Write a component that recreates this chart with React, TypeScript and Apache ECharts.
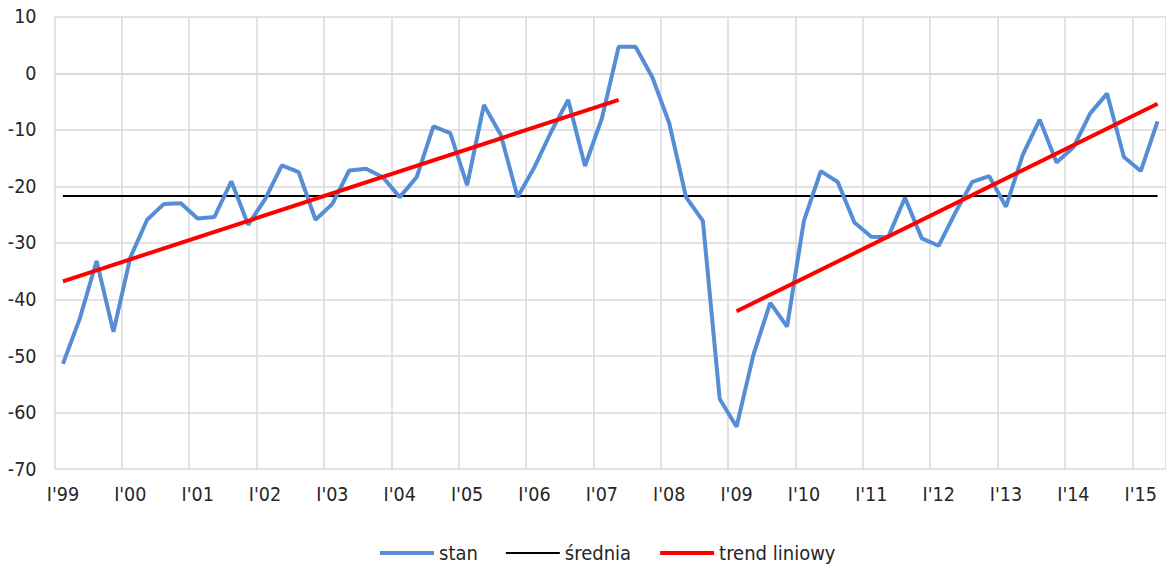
import React, { useEffect, useRef } from "react";
import * as echarts from "echarts";

const categories: string[] = [
  "I'99", "II'99", "III'99", "IV'99",
  "I'00", "II'00", "III'00", "IV'00",
  "I'01", "II'01", "III'01", "IV'01",
  "I'02", "II'02", "III'02", "IV'02",
  "I'03", "II'03", "III'03", "IV'03",
  "I'04", "II'04", "III'04", "IV'04",
  "I'05", "II'05", "III'05", "IV'05",
  "I'06", "II'06", "III'06", "IV'06",
  "I'07", "II'07", "III'07", "IV'07",
  "I'08", "II'08", "III'08", "IV'08",
  "I'09", "II'09", "III'09", "IV'09",
  "I'10", "II'10", "III'10", "IV'10",
  "I'11", "II'11", "III'11", "IV'11",
  "I'12", "II'12", "III'12", "IV'12",
  "I'13", "II'13", "III'13", "IV'13",
  "I'14", "II'14", "III'14", "IV'14",
  "I'15", "II'15",
];

const stan: number[] = [
  -51.4, -43.4, -33.2, -45.7,
  -32.6, -25.9, -23.1, -23.0,
  -25.7, -25.4, -19.1, -26.8,
  -22.3, -16.3, -17.5, -25.9,
  -23.1, -17.2, -16.9, -18.4,
  -21.9, -18.4, -9.4, -10.6,
  -19.8, -5.6, -10.9, -21.9,
  -16.6, -10.3, -4.7, -16.4,
  -8.0, 4.7, 4.7, -0.7,
  -8.8, -21.9, -26.1, -57.6,
  -62.5, -49.8, -40.6, -44.8,
  -26.1, -17.3, -19.2, -26.4,
  -28.9, -29.0, -22.0, -29.2,
  -30.5, -24.6, -19.2, -18.2,
  -23.6, -14.4, -8.2, -15.8,
  -13.1, -7.1, -3.6, -14.8,
  -17.3, -8.5,
];

const sredniaValue = -21.7;

// trend lines: [category index, value] at start and end
const trend1: [number, number][] = [[0, -36.8], [33, -4.7]];
const trend2: [number, number][] = [[40, -42.1], [65, -5.4]];

const FONT = "'DejaVu Sans Condensed', 'DejaVu Sans', sans-serif";
const TEXT = "#262626";
const GRID = "#D9D9D9";

export default function App() {
  const ref = useRef<HTMLDivElement>(null);
  useEffect(() => {
    if (!ref.current) return;
    const chart = echarts.init(ref.current, undefined, { renderer: "svg" });
    chart.setOption({
      animation: false,
      textStyle: { fontFamily: FONT },
      grid: { left: 54.5, right: -2.5, top: 16.7, height: 452.4, containLabel: false },
      legend: {
        left: 378,
        top: 543,
        padding: 0,
        itemWidth: 54,
        itemHeight: 6,
        itemGap: 27,
        itemStyle: { opacity: 0 },
        textStyle: { fontFamily: FONT, fontSize: 20, color: TEXT },
        data: [
          { name: "stan", lineStyle: { width: 4, color: "#558ED5" } },
          { name: "średnia", lineStyle: { width: 2, color: "#000000" } },
          { name: "trend liniowy", lineStyle: { width: 4, color: "#FF0000" } },
        ],
      },
      xAxis: {
        type: "category",
        data: categories,
        boundaryGap: true,
        axisLine: { show: true, lineStyle: { color: GRID, width: 1.5 } },
        axisTick: { show: false, interval: 3 },
        axisLabel: {
          interval: 3,
          margin: 15,
          fontFamily: FONT,
          fontSize: 19.5,
          color: TEXT,
        },
        splitLine: { show: true, interval: 3, lineStyle: { color: GRID, width: 1.5 } },
      },
      yAxis: {
        type: "value",
        min: -70,
        max: 10,
        interval: 10,
        axisLine: { show: false },
        axisTick: { show: false },
        axisLabel: { margin: 18, fontFamily: FONT, fontSize: 19.5, color: TEXT },
        splitLine: { show: true, lineStyle: { color: GRID, width: 1.5 } },
      },
      series: [
        {
          name: "stan",
          type: "line",
          data: stan,
          symbol: "none",
          lineStyle: { color: "#558ED5", width: 4 },
          itemStyle: { color: "#558ED5" },
          z: 3,
        },
        {
          name: "średnia",
          type: "line",
          data: categories.map(() => sredniaValue),
          symbol: "none",
          lineStyle: { color: "#000000", width: 2 },
          itemStyle: { color: "#000000" },
          z: 2,
        },
        {
          name: "trend liniowy",
          type: "line",
          data: trend1,
          symbol: "none",
          lineStyle: { color: "#FF0000", width: 4 },
          itemStyle: { color: "#FF0000" },
          z: 4,
        },
        {
          name: "trend liniowy",
          type: "line",
          data: trend2,
          symbol: "none",
          lineStyle: { color: "#FF0000", width: 4 },
          itemStyle: { color: "#FF0000" },
          z: 4,
        },
      ],
    });
    return () => chart.dispose();
  }, []);
  return (
    <div
      ref={ref}
      style={{ position: "absolute", left: 0, top: 0, width: 1166, height: 570, background: "#ffffff" }}
    />
  );
}
